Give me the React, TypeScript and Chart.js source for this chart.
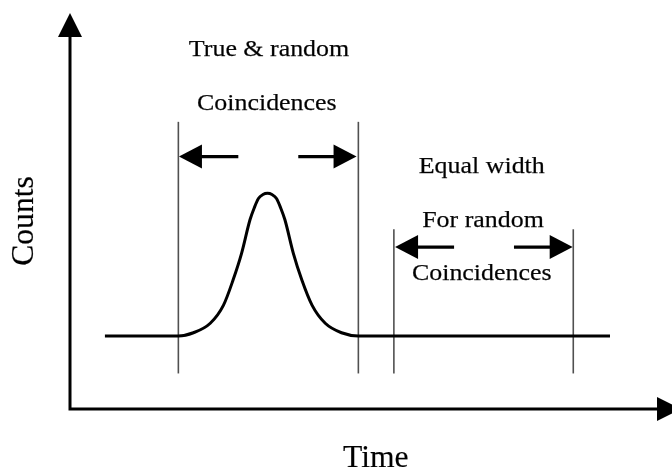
import React, { useEffect, useRef } from "react";
import { Chart, registerables } from "chart.js";

Chart.register(...registerables);

// Axis ranges (arbitrary units)
const timeRange = [0, 100];
const countsRange = [0, 100];
const timeAxisTip = 101.5;
const countsAxisTip = 100;

// Measured spectrum: flat random background with a true-coincidence peak
const spectrumTime = [5.8, 18.0, 20.5, 23.3, 25.5, 27.1, 28.5, 29.9, 30.6, 31.3, 32.05, 32.8, 33.55, 34.3, 35.0, 35.7, 37.1, 38.5, 40.2, 42.4, 45.1, 47.9, 89.7];
const spectrumCounts = [18.5, 18.5, 19.3, 21.7, 26.3, 32.7, 39.4, 47.9, 50.9, 53.3, 54.3, 54.6, 54.3, 53.3, 50.9, 47.9, 39.4, 32.7, 26.3, 21.7, 19.3, 18.5, 18.5];

// Window boundaries (vertical markers)
const windowTimes = [18.0, 47.9, 53.8, 83.6];
const windowBottoms = [9.0, 9.0, 9.0, 9.0];
const windowTops = [72.7, 72.7, 45.5, 45.5];

// Width arrows
const arrowTails = [27.96, 37.92, 63.8, 73.75];
const arrowTips = [18.1, 47.6, 54.0, 83.5];
const arrowLevels = [63.9, 63.9, 41.0, 41.0];

// Annotation labels
const labelTexts = ["True & random", "Coincidences", "Equal width", "For random", "Coincidences"];
const labelTimes = [33.06, 32.7, 68.4, 68.6, 68.4];
const labelCounts = [89.4, 75.7, 59.7, 46.0, 32.7];

const xTitle = "Time";
const yTitle = "Counts";
const xTitlePos = [50.8, -14.6];
const yTitlePos = [-6.15, 47.6];

const SERIF = '"Liberation Serif", "Times New Roman", serif';

function drawHead(ctx: CanvasRenderingContext2D, tx: number, ty: number, dx: number, dy: number, len: number, half: number) {
  const L = Math.hypot(dx, dy) || 1;
  const ux = dx / L, uy = dy / L;
  const bx = tx - ux * len, by = ty - uy * len;
  ctx.beginPath();
  ctx.moveTo(tx, ty);
  ctx.lineTo(bx - uy * half, by + ux * half);
  ctx.lineTo(bx + uy * half, by - ux * half);
  ctx.closePath();
  ctx.fill();
}

function drawLabel(ctx: CanvasRenderingContext2D, text: string, x: number, y: number, stretch: number, rot: number) {
  ctx.save();
  ctx.translate(x, y);
  if (rot) ctx.rotate(rot);
  ctx.scale(stretch, 1);
  ctx.fillText(text, 0, 0);
  ctx.strokeText(text, 0, 0);
  ctx.restore();
}

const diagramPlugin = {
  id: "diagram",
  afterDatasetsDraw(chart: any) {
    const ctx: CanvasRenderingContext2D = chart.ctx;
    const xs = chart.scales.x;
    const ys = chart.scales.y;
    const px = (v: number) => xs.getPixelForValue(v);
    const py = (v: number) => ys.getPixelForValue(v);
    ctx.save();
    ctx.fillStyle = "#000";
    ctx.strokeStyle = "#000";

    // axes
    ctx.lineWidth = 3;
    ctx.lineCap = "butt";
    const ox = px(timeRange[0]);
    const oy = py(countsRange[0]);
    const yTip = py(countsAxisTip) - 1;
    const xTip = px(timeAxisTip);
    ctx.beginPath();
    ctx.moveTo(ox, oy + 1.5);
    ctx.lineTo(ox, yTip + 20);
    ctx.moveTo(ox - 1.5, oy);
    ctx.lineTo(xTip - 20, oy);
    ctx.stroke();
    drawHead(ctx, ox, yTip, 0, -1, 24, 12);
    drawHead(ctx, xTip, oy, 1, 0, 24, 12);

    // width arrows
    ctx.lineWidth = 3.2;
    for (let i = 0; i < arrowTails.length; i++) {
      const x1 = px(arrowTails[i]);
      const x2 = px(arrowTips[i]);
      const y = py(arrowLevels[i]);
      const dir = Math.sign(x2 - x1);
      ctx.beginPath();
      ctx.moveTo(x1, y);
      ctx.lineTo(x2 - dir * 18, y);
      ctx.stroke();
      drawHead(ctx, x2, y, dir, 0, 23, 12);
    }

    // labels
    ctx.textAlign = "center";
    ctx.textBaseline = "alphabetic";
    ctx.strokeStyle = "#222";
    ctx.lineWidth = 0.25;
    ctx.font = `24px ${SERIF}`;
    for (let i = 0; i < labelTexts.length; i++) {
      drawLabel(ctx, labelTexts[i], px(labelTimes[i]), py(labelCounts[i]), 1.08, 0);
    }

    // axis titles
    ctx.font = `31px ${SERIF}`;
    ctx.lineWidth = 0.2;
    drawLabel(ctx, xTitle, px(xTitlePos[0]), py(xTitlePos[1]), 1.02, 0);
    drawLabel(ctx, yTitle, px(yTitlePos[0]), py(yTitlePos[1]), 1.02, -Math.PI / 2);
    ctx.restore();
  },
};

export default function App() {
  const ref = useRef<HTMLCanvasElement | null>(null);
  useEffect(() => {
    if (!ref.current) return;
    const curve = spectrumTime.map((t, i) => ({ x: t, y: spectrumCounts[i] }));
    const markers = windowTimes.map((t, i) => ({
      type: "line" as const,
      data: [
        { x: t, y: windowBottoms[i] },
        { x: t, y: windowTops[i] },
      ],
      borderColor: "#505050",
      borderWidth: 1.6,
      pointRadius: 0,
      fill: false,
      tension: 0,
    }));
    const chart = new Chart(ref.current, {
      type: "line",
      data: {
        datasets: [
          {
            data: curve,
            borderColor: "#000",
            borderWidth: 3,
            pointRadius: 0,
            fill: false,
            cubicInterpolationMode: "monotone",
          } as any,
          ...markers,
        ],
      },
      options: {
        animation: false,
        responsive: false,
        devicePixelRatio: 1,
        layout: { padding: { left: 70, right: 0, top: 14, bottom: 59 } },
        scales: {
          x: { type: "linear", min: timeRange[0], max: timeRange[1], display: false },
          y: { type: "linear", min: countsRange[0], max: countsRange[1], display: false },
        },
        plugins: { legend: { display: false }, tooltip: { enabled: false } },
        events: [],
      },
      plugins: [diagramPlugin],
    });
    return () => chart.destroy();
  }, []);
  return (
    <div style={{ position: "absolute", left: 0, top: 0, width: 672, height: 468, background: "#fff" }}>
      <canvas ref={ref} width={672} height={468} style={{ display: "block" }} />
    </div>
  );
}
